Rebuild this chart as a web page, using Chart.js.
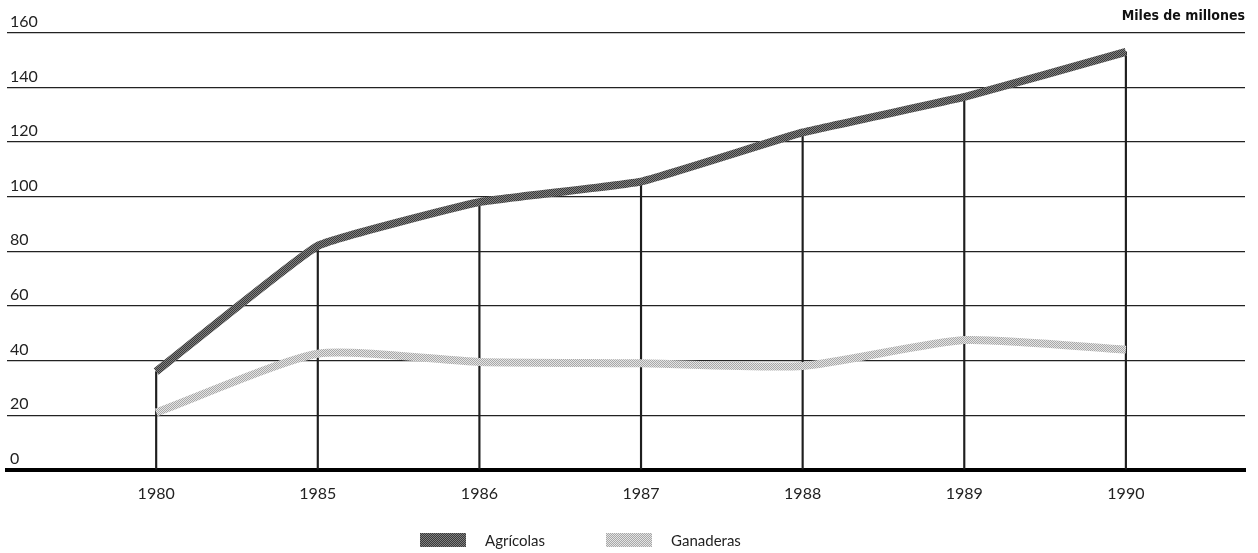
<!DOCTYPE html>
<html>
<head>
<meta charset="utf-8">
<script src="https://cdn.jsdelivr.net/npm/chart.js@4.4.1/dist/chart.umd.min.js"></script>
<style>
    html, body { margin: 0; padding: 0; background: #fff; }
    #wrap { position: relative; width: 1258px; height: 553px; }
    #legend { position: absolute; left: 420px; top: 531px; display: flex; align-items: center;
              font-family: Lato, "Open Sans", sans-serif; font-size: 15px; color: #222; }
    .item { display: flex; align-items: center; margin-right: 61px; }
    .box { width: 46px; height: 14px; margin-right: 19px; }
</style>
</head>
<body>
<div id="wrap">
    <canvas id="chart" width="1258" height="553"></canvas>
    <div id="legend"></div>
</div>
<script>
    // data (miles de millones)
    const years = ["1980", "1985", "1986", "1987", "1988", "1989", "1990"];
    const agricolas = [36, 82, 98, 105.5, 123.5, 136.5, 153];
    const ganaderas = [21, 42.5, 39.5, 39, 38, 47.5, 44];
    const yTicks = [0, 20, 40, 60, 80, 100, 120, 140, 160];

    /** stippled fill like the printed screen tone */
    function makePattern(light, dark) {
        const c = document.createElement("canvas");
        c.width = 4; c.height = 4;
        const g = c.getContext("2d");
        g.fillStyle = light;
        g.fillRect(0, 0, 4, 4);
        g.fillStyle = dark;
        g.fillRect(0, 0, 1, 1); g.fillRect(2, 0, 1, 1);
        g.fillRect(1, 1, 1, 1); g.fillRect(3, 1, 1, 1);
        g.fillRect(0, 2, 1, 1); g.fillRect(2, 2, 1, 1);
        g.fillRect(1, 3, 1, 1); g.fillRect(3, 3, 1, 1);
        return c;
    }
    const agrTile = makePattern("#808080", "#3a3a3a");
    const ganTile = makePattern("#e4e4e4", "#a8a8a8");
    const ctx = document.getElementById("chart").getContext("2d");
    const agrPattern = ctx.createPattern(agrTile, "repeat");
    const ganPattern = ctx.createPattern(ganTile, "repeat");

    const toPoints = arr => arr.map((v, i) => ({ x: i, y: v }));

    /** y labels sit just above their grid line, at the left edge */
    const yLabels = {
        id: "yLabels",
        afterDraw(chart) {
            const c = chart.ctx, y = chart.scales.y, left = chart.chartArea.left;
            c.save();
            c.font = "16px Lato";
            c.fillStyle = "#222";
            c.textAlign = "left";
            c.textBaseline = "middle";
            yTicks.forEach(v => c.fillText(String(v), left + 3, y.getPixelForValue(v) - 11));
            c.restore();
        }
    };

    const chart = new Chart(ctx, {
        data: {
            datasets: [
                {
                    type: "line", label: "Agrícolas", data: toPoints(agricolas),
                    borderColor: agrPattern, backgroundColor: agrPattern, borderWidth: 8,
                    pointRadius: 0, tension: 0.1, order: 1, tile: agrTile
                },
                {
                    type: "line", label: "Ganaderas", data: toPoints(ganaderas),
                    borderColor: ganPattern, backgroundColor: ganPattern, borderWidth: 8,
                    pointRadius: 0, tension: 0.2, order: 2, tile: ganTile
                },
                // thin drop lines from each Agrícolas point down to the base
                {
                    type: "bar", label: "drop", data: toPoints(agricolas),
                    backgroundColor: "#1e1e1e", barThickness: 1.5, order: 3
                }
            ]
        },
        options: {
            responsive: false,
            animation: false,
            layout: { padding: { left: 7, right: 13, top: 0, bottom: 44 } },
            plugins: {
                legend: { display: false },
                tooltip: { enabled: false },
                title: {
                    display: true, text: "Miles de millones", align: "end", color: "#111",
                    font: { family: "DejaVu Sans Condensed", size: 14, weight: "bold" },
                    padding: { top: 8, bottom: 8 }
                }
            },
            scales: {
                x: {
                    type: "linear", min: -0.923, max: 6.737, offset: false,
                    afterBuildTicks: s => { s.ticks = years.map((y, i) => ({ value: i })); },
                    ticks: {
                        callback: v => years[v], color: "#222", padding: 6,
                        font: { family: "Lato", size: 16 }
                    },
                    grid: { display: false },
                    border: { display: true, color: "#000", width: 4 }
                },
                y: {
                    min: 0, max: 160,
                    afterBuildTicks: s => { s.ticks = yTicks.map(v => ({ value: v })); },
                    ticks: { display: false },
                    grid: { color: "#222", lineWidth: 1.2, drawTicks: false },
                    border: { display: false }
                }
            }
        },
        plugins: [yLabels]
    });

    /** legend built from the datasets */
    const legendEl = document.getElementById("legend");
    chart.data.datasets.filter(d => d.type === "line").forEach(d => {
        const item = document.createElement("div");
        item.className = "item";
        const box = document.createElement("div");
        box.className = "box";
        box.style.backgroundImage = "url(" + d.tile.toDataURL() + ")";
        const txt = document.createElement("span");
        txt.textContent = d.label;
        item.appendChild(box);
        item.appendChild(txt);
        legendEl.appendChild(item);
    });
</script>
</body>
</html>
